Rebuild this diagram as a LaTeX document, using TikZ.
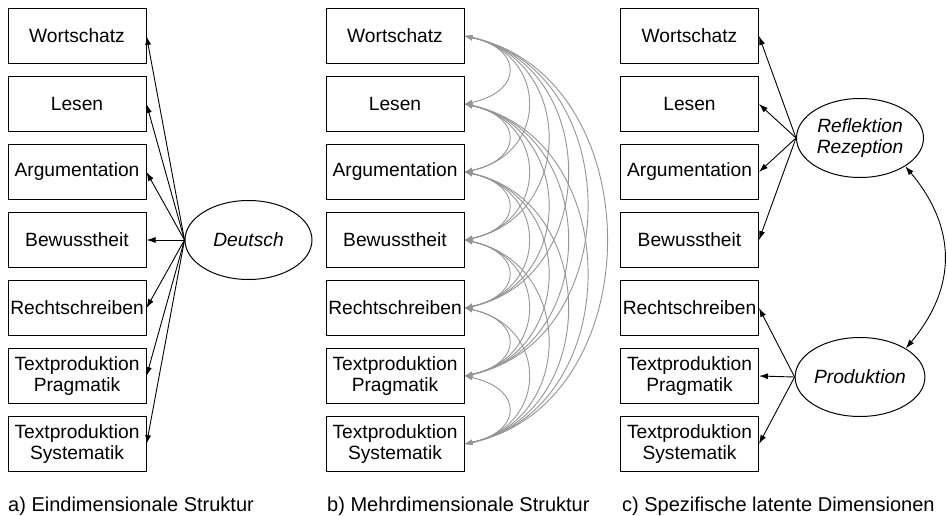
\documentclass[tikz,border=0pt]{standalone}
\usepackage{fontspec}
\setmainfont{Liberation Sans}
\usetikzlibrary{arrows.meta,shapes.geometric}
\definecolor{covgray}{gray}{0.58}
\begin{document}
\begin{tikzpicture}[x=1pt,y=1pt,
  box/.style={draw, line width=1pt, minimum width=138pt, minimum height=54.5pt, inner sep=1pt, align=center, font=\fontsize{19.2}{21.5}\selectfont},
  latent/.style={draw, ellipse, line width=1pt, minimum width=127pt, minimum height=79pt, inner sep=0pt, align=center, font=\fontsize{19.2}{21.5}\selectfont\itshape},
  load/.style={line width=0.9pt, -{Latex[length=9pt,width=6pt]}},
  cov/.style={line width=0.9pt, draw=covgray, {Latex[length=8pt,width=5.5pt]}-{Latex[length=8pt,width=5.5pt]}},
  corr/.style={line width=0.9pt, {Latex[length=9pt,width=6pt]}-{Latex[length=9pt,width=6pt]}},
  captext/.style={anchor=base west, inner sep=0pt, font=\fontsize{20}{22}\selectfont}
]
\useasboundingbox (0,0) rectangle (947,515);

\foreach \i/\t in {1/Wortschatz, 2/Lesen, 3/Argumentation, 4/Bewusstheit, 5/Rechtschreiben, 6/{Textproduktion\\Pragmatik}, 7/{Textproduktion\\Systematik}}{
  \node[box] (a\i) at (77, {547-68*\i}) {\t};
  \node[box] (b\i) at (395, {547-68*\i}) {\t};
  \node[box] (c\i) at (689.5, {547-68*\i}) {\t};
}

% a) one factor
\node[latent] (D) at (248.5, 275) {Deutsch};
\foreach \i in {1,...,7} \draw[load] (D.west) -- (a\i.east);

% b) all covariances
\foreach \i in {1,...,6}{
  \pgfmathtruncatemacro{\s}{\i+1}
  \foreach \j in {\s,...,7}{
    \pgfmathsetmacro{\L}{(24.5+19.5*(\j-\i))/0.735}
    \draw[cov] (b\i.east) .. controls +(-12:\L) and +(12:\L) .. (b\j.east);
  }
}

% c) two factors
\node[latent] (R) at (860, 377) {Reflektion\\Rezeption};
\node[latent] (P) at (860, 138) {Produktion};
\foreach \i in {1,...,4} \draw[load] (R.west) -- (c\i.east);
\foreach \i in {5,6,7} \draw[load] (P.west) -- (c\i.east);
\draw[corr] (R.-32) .. controls +(-50:80) and +(50:80) .. (P.32);

% captions
\node[captext] (capa) at (8, 4) {a) Eindimensionale Struktur};
\node[captext] (capb) at (327, 4) {b) Mehrdimensionale Struktur};
\node[captext] (capc) at (622, 4) {c) Spezifische latente Dimensionen};
\end{tikzpicture}
\end{document}
